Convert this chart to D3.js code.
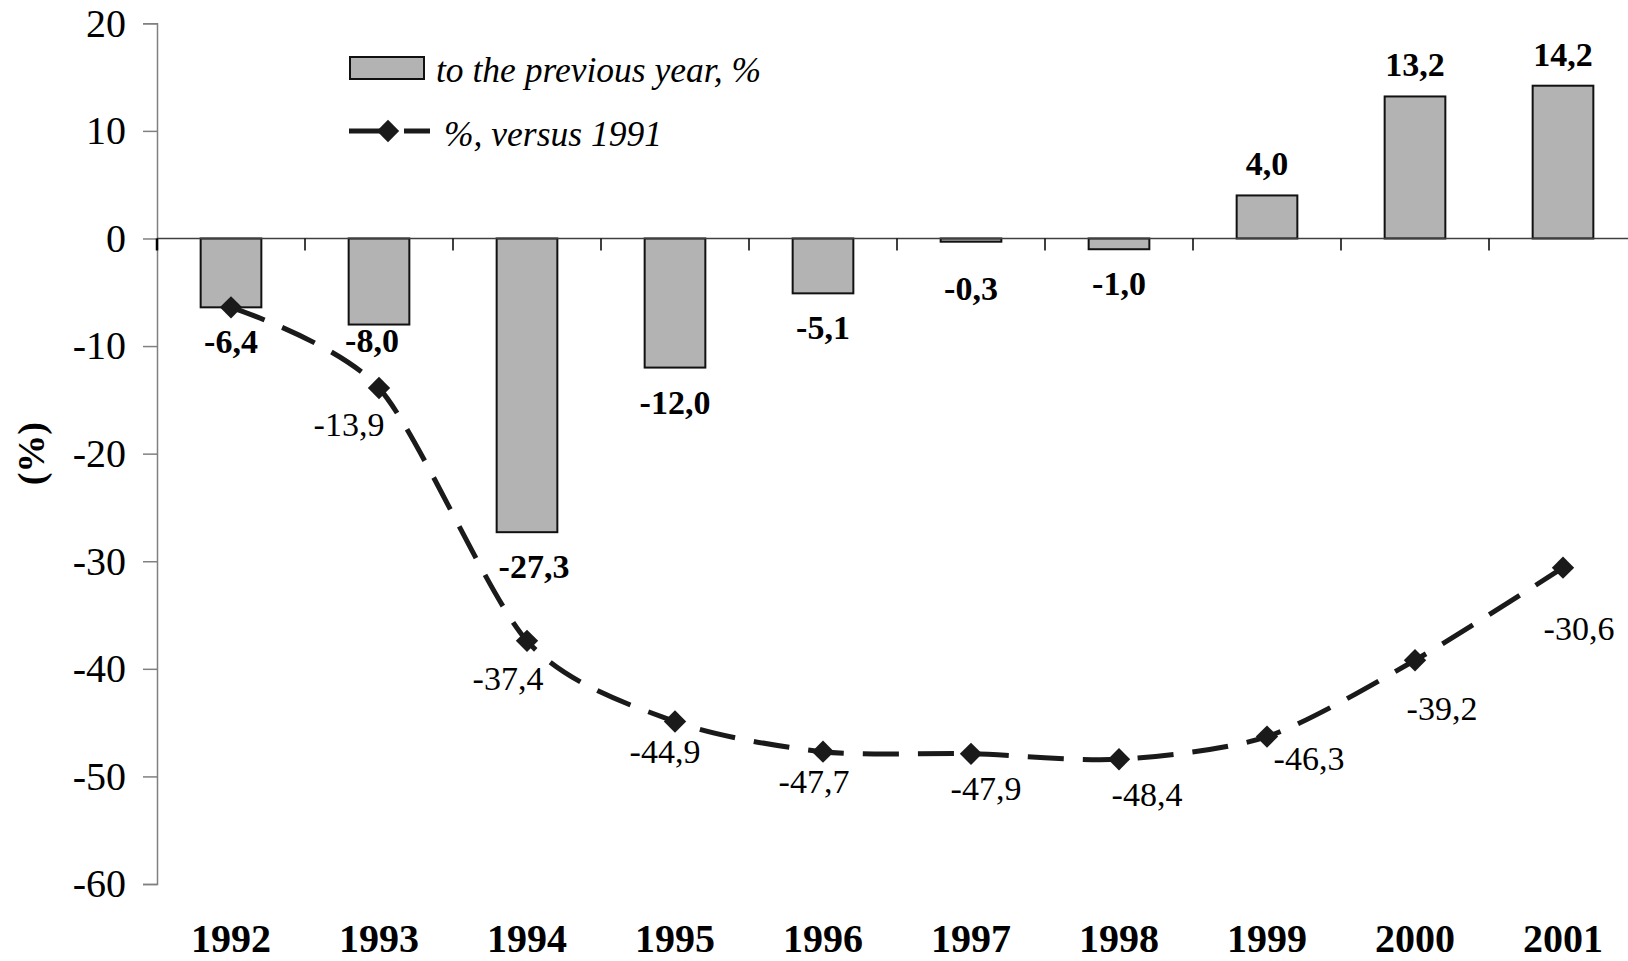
<!DOCTYPE html>
<html>
<head>
<meta charset="utf-8">
<script src="https://cdn.jsdelivr.net/npm/d3@7"></script>
<style>
  body { margin: 0; background: #fff; }
  svg { display: block; font-family: "Liberation Serif", "Times New Roman", serif; }
</style>
</head>
<body>
<div id="chart"></div>
<script>
// data
const years = ["1992", "1993", "1994", "1995", "1996", "1997", "1998", "1999", "2000", "2001"];
const prevYear = [-6.4, -8.0, -27.3, -12.0, -5.1, -0.3, -1.0, 4.0, 13.2, 14.2];
const vs1991 = [-6.4, -13.9, -37.4, -44.9, -47.7, -47.9, -48.4, -46.3, -39.2, -30.6];
const yTicks = [20, 10, 0, -10, -20, -30, -40, -50, -60];
const legendLabels = ["to the previous year, %", "%, versus 1991"];

// label placement tweaks (layout only, px)
const barLabelNudge = [[0, 0], [-7, -19], [7, 0], [0, 0], [0, 0], [0, 12], [0, 0], [0, 0], [0, 0], [0, 0]];
const lineLabelNudge = [null, [-30, 48], [-19, 49], [-10, 41], [-9, 41], [15, 46], [28, 47], [42, 33], [27, 60], [16, 72]];

const W = 1628, H = 961;
const fmt = v => v.toFixed(1).replace(".", ",");

const svg = d3.select("#chart").append("svg")
    .attr("width", W)
    .attr("height", H);

svg.append("rect").attr("width", W).attr("height", H).attr("fill", "#fff");

const x = d3.scaleBand()
    .domain(years)
    .range([157, 1637])
    .padding(0);

const y = d3.scaleLinear()
    .domain([-60, 20])
    .range([884, 23.3]);

const bw = x.bandwidth();
const barW = bw * 0.41;
const cx = d => x(d) + bw / 2;

// y axis
const yAxis = svg.append("g")
    .attr("transform", "translate(157,0)")
    .call(d3.axisLeft(y).tickValues(yTicks).tickSize(14).tickPadding(17).tickFormat(d => String(d)));
yAxis.select(".domain").attr("stroke", "#808080").attr("stroke-width", 1.5);
yAxis.selectAll(".tick line").attr("stroke", "#808080").attr("stroke-width", 1.5);
yAxis.selectAll(".tick text")
    .attr("font-size", 40)
    .attr("font-family", "Liberation Serif, Times New Roman, serif")
    .attr("fill", "#000");

svg.append("text")
    .attr("transform", `translate(44,${y(-20)}) rotate(-90)`)
    .attr("text-anchor", "middle")
    .attr("font-size", 38)
    .attr("font-weight", "bold")
    .text("(%)");

// bars
svg.selectAll(".bar")
    .data(years)
    .enter().append("rect")
    .attr("class", "bar")
    .attr("x", d => x(d) + (bw - barW) / 2)
    .attr("y", (d, i) => Math.min(y(prevYear[i]), y(0)))
    .attr("width", barW)
    .attr("height", (d, i) => Math.abs(y(prevYear[i]) - y(0)))
    .attr("fill", "#b3b3b3")
    .attr("stroke", "#111")
    .attr("stroke-width", 2);

// x axis at zero
svg.append("line")
    .attr("x1", 157).attr("x2", W)
    .attr("y1", y(0)).attr("y2", y(0))
    .attr("stroke", "#404040")
    .attr("stroke-width", 1.5);

svg.selectAll(".xtick")
    .data(years)
    .enter().append("line")
    .attr("class", "xtick")
    .attr("x1", d => x(d)).attr("x2", d => x(d))
    .attr("y1", y(0)).attr("y2", y(0) + 12)
    .attr("stroke", "#000")
    .attr("stroke-width", (d, i) => i === 0 ? 2.5 : 1.5);

svg.selectAll(".year")
    .data(years)
    .enter().append("text")
    .attr("class", "year")
    .attr("x", cx)
    .attr("y", 952)
    .attr("text-anchor", "middle")
    .attr("font-size", 40)
    .attr("font-weight", "bold")
    .text(d => d);

// bar labels
svg.selectAll(".blabel")
    .data(years)
    .enter().append("text")
    .attr("class", "blabel")
    .attr("x", (d, i) => cx(d) + barLabelNudge[i][0])
    .attr("y", (d, i) => (prevYear[i] >= 0 ? y(prevYear[i]) - 20 : y(prevYear[i]) + 46) + barLabelNudge[i][1])
    .attr("text-anchor", "middle")
    .attr("font-size", 34)
    .attr("font-weight", "bold")
    .text((d, i) => fmt(prevYear[i]));

// line vs 1991
const line = d3.line()
    .x(d => cx(d))
    .y((d, i) => y(vs1991[i]))
    .curve(d3.curveCardinal.tension(0.2));

svg.append("path")
    .datum(years)
    .attr("d", line)
    .attr("fill", "none")
    .attr("stroke", "#1a1a1a")
    .attr("stroke-width", 5)
    .attr("stroke-dasharray", "36,19");

const diamond = d3.symbol().type(d3.symbolSquare).size(250);

svg.selectAll(".marker")
    .data(years)
    .enter().append("path")
    .attr("class", "marker")
    .attr("d", diamond)
    .attr("transform", (d, i) => `translate(${cx(d)},${y(vs1991[i])}) rotate(45)`)
    .attr("fill", "#1a1a1a");

svg.selectAll(".llabel")
    .data(years.filter((d, i) => lineLabelNudge[i]))
    .enter().append("text")
    .attr("class", "llabel")
    .attr("x", d => cx(d) + lineLabelNudge[years.indexOf(d)][0])
    .attr("y", d => y(vs1991[years.indexOf(d)]) + lineLabelNudge[years.indexOf(d)][1])
    .attr("text-anchor", "middle")
    .attr("font-size", 34)
    .text(d => fmt(vs1991[years.indexOf(d)]));

// legend
const legend = svg.append("g");
legend.append("rect")
    .attr("x", 350).attr("y", 57)
    .attr("width", 74).attr("height", 22)
    .attr("fill", "#b3b3b3")
    .attr("stroke", "#111")
    .attr("stroke-width", 2);
legend.append("text")
    .attr("x", 436).attr("y", 82)
    .attr("font-size", 35.5)
    .attr("font-style", "italic")
    .text(legendLabels[0]);
legend.append("line")
    .attr("x1", 349).attr("x2", 430)
    .attr("y1", 131).attr("y2", 131)
    .attr("stroke", "#1a1a1a")
    .attr("stroke-width", 5)
    .attr("stroke-dasharray", "36,19");
legend.append("path")
    .attr("d", diamond)
    .attr("transform", "translate(388,131) rotate(45)")
    .attr("fill", "#1a1a1a");
legend.append("text")
    .attr("x", 444).attr("y", 146)
    .attr("font-size", 35.5)
    .attr("font-style", "italic")
    .text(legendLabels[1]);
</script>
</body>
</html>
